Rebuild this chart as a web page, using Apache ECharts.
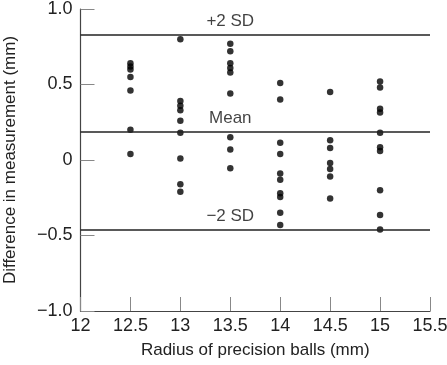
<!DOCTYPE html>
<html>
<head>
<meta charset="utf-8">
<script src="https://cdn.jsdelivr.net/npm/echarts@6/dist/echarts.min.js"></script>
<style>
  html, body { margin: 0; padding: 0; background: #fff; }
  #chart { width: 447px; height: 365px; }
</style>
</head>
<body>
<div id="chart"></div>
<script>
// ball radii (mm) and the measured differences (mm) for each
const radii = [12.5, 13, 13.5, 14, 14.5, 15];
const diffs125 = [0.64, 0.62, 0.60, 0.55, 0.46, 0.20, 0.04];
const diffs13 = [0.80, 0.39, 0.36, 0.33, 0.26, 0.18, 0.01, -0.16, -0.21];
const diffs135 = [0.77, 0.72, 0.64, 0.61, 0.58, 0.44, 0.15, 0.07, -0.055];
const diffs14 = [0.51, 0.40, 0.115, 0.04, -0.09, -0.13, -0.22, -0.245, -0.35, -0.43];
const diffs145 = [0.45, 0.13, 0.08, -0.02, -0.06, -0.11, -0.255];
const diffs15 = [0.52, 0.48, 0.34, 0.315, 0.18, 0.085, 0.06, -0.20, -0.365, -0.46];

// limits of agreement
const limitNames = ['+2 SD', 'Mean', '\u22122 SD'];
const limitValues = [0.835, 0.19, -0.457];
const labelAtX = 13.5;

const xTicks = ['12', '12.5', '13', '13.5', '14', '14.5', '15', '15.5'];
const yTicks = ['\u22121.0', '\u22120.5', '0', '0.5', '1.0'];

const FONT = '"Liberation Sans", Arial, sans-serif';

const columns = [diffs125, diffs13, diffs135, diffs14, diffs145, diffs15];
const points = [];
columns.forEach((col, i) => {
  col.forEach(v => points.push([radii[i], v]));
});

const limitLabels = limitValues.map((v, i) => ({
  value: [labelAtX, v],
  label: { formatter: limitNames[i] }
}));

const chart = echarts.init(document.getElementById('chart'));
chart.setOption({
  animation: false,
  textStyle: { fontFamily: FONT },
  grid: { left: 80.5, right: 17, top: 9, bottom: 54, outerBoundsMode: 'none', containLabel: false },
  xAxis: {
    type: 'value',
    min: 12,
    max: 15.5,
    interval: 0.5,
    name: 'Radius of precision balls (mm)',
    nameLocation: 'middle',
    nameGap: 31,
    nameTextStyle: { fontSize: 17, color: '#222', fontFamily: FONT },
    splitLine: { show: false },
    axisLine: { onZero: false, lineStyle: { color: '#444', width: 1.2 } },
    axisTick: { inside: true, length: 14, lineStyle: { color: '#888', width: 1 } },
    axisLabel: {
      fontSize: 18,
      color: '#222',
      margin: 6,
      formatter: v => xTicks[Math.round((v - 12) / 0.5)]
    }
  },
  yAxis: {
    type: 'value',
    min: -1,
    max: 1,
    interval: 0.5,
    name: 'Difference in measurement (mm)',
    nameLocation: 'middle',
    nameGap: 62,
    nameTextStyle: { fontSize: 17, color: '#222', fontFamily: FONT },
    splitLine: { show: false },
    axisLine: { show: true, onZero: false, lineStyle: { color: '#444', width: 1.2 } },
    axisTick: { show: true, inside: true, length: 14, lineStyle: { color: '#888', width: 1 } },
    axisLabel: {
      fontSize: 18,
      color: '#222',
      margin: 8,
      formatter: v => yTicks[Math.round((v + 1) / 0.5)]
    }
  },
  series: [
    {
      type: 'scatter',
      symbol: 'circle',
      symbolSize: 6.5,
      itemStyle: { color: '#000' },
      data: points,
      markLine: {
        silent: true,
        symbol: 'none',
        label: { show: false },
        lineStyle: { color: '#222', width: 1.5, type: 'solid' },
        data: limitValues.map(v => ({ yAxis: v }))
      }
    },
    {
      type: 'scatter',
      symbolSize: 0,
      silent: true,
      label: {
        show: true,
        position: 'top',
        distance: 4,
        fontSize: 17,
        color: '#111',
        fontFamily: FONT
      },
      data: limitLabels
    }
  ]
});
</script>
</body>
</html>
